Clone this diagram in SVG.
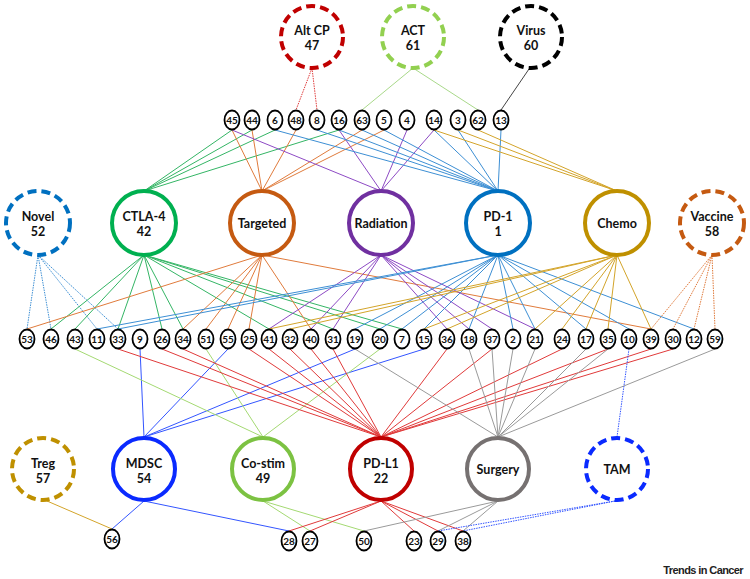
<svg xmlns="http://www.w3.org/2000/svg" width="750" height="579" viewBox="0 0 750 579">
<style>
.big{fill:#fff;stroke-width:4}
.dash{stroke-dasharray:9 5}
.sm{fill:#fff;stroke:#000;stroke-width:1.8}
.lb{font-family:Lato,"Liberation Sans",sans-serif;font-weight:bold;font-size:12.5px;text-anchor:middle;fill:#111}
.sl{font-family:Lato,"Liberation Sans",sans-serif;font-weight:bold;font-size:10px;text-anchor:middle;fill:#111}
#edges line{stroke-width:1;fill:none}
.dot{stroke-dasharray:1.5 1}
.c-red{stroke:#e03a3a}.c-act{stroke:#a9d98a}.c-vir{stroke:#444}
.c-ctla{stroke:#34b565}.c-tar{stroke:#e07b3c}.c-rad{stroke:#8d4ac4}.c-pd1{stroke:#3d8fd4}
.c-che{stroke:#d3a42a}.c-nov{stroke:#3d8fd4}.c-vac{stroke:#e07b3c}
.c-mdsc{stroke:#3355ff}.c-cos{stroke:#a4d972}.c-pdl1{stroke:#e03a3a}.c-sur{stroke:#9a9a9a}.c-tam{stroke:#3355ff}.c-treg{stroke:#d3a42a}
</style>
<g id="edges">
<line class="c-red dot" x1="312" y1="68" x2="296" y2="110"/>
<line class="c-red dot" x1="312" y1="68" x2="317" y2="110"/>
<line class="c-act" x1="413" y1="68" x2="362" y2="110"/>
<line class="c-act" x1="413" y1="68" x2="478" y2="110"/>
<line class="c-vir" x1="529" y1="69" x2="501" y2="110"/>
<line class="c-ctla" x1="144" y1="191" x2="232" y2="130"/>
<line class="c-ctla" x1="144" y1="191" x2="252" y2="130"/>
<line class="c-ctla" x1="144" y1="191" x2="275" y2="130"/>
<line class="c-ctla" x1="144" y1="191" x2="339" y2="130"/>
<line class="c-tar" x1="262" y1="191" x2="232" y2="130"/>
<line class="c-tar" x1="262" y1="191" x2="252" y2="130"/>
<line class="c-tar" x1="262" y1="191" x2="296" y2="130"/>
<line class="c-tar" x1="262" y1="191" x2="362" y2="130"/>
<line class="c-tar" x1="262" y1="191" x2="384" y2="130"/>
<line class="c-rad" x1="381" y1="191" x2="232" y2="130"/>
<line class="c-rad" x1="381" y1="191" x2="339" y2="130"/>
<line class="c-rad" x1="381" y1="191" x2="407" y2="130"/>
<line class="c-rad" x1="381" y1="191" x2="434" y2="130"/>
<line class="c-pd1" x1="498" y1="191" x2="275" y2="130"/>
<line class="c-pd1" x1="498" y1="191" x2="317" y2="130"/>
<line class="c-pd1" x1="498" y1="191" x2="339" y2="130"/>
<line class="c-pd1" x1="498" y1="191" x2="362" y2="130"/>
<line class="c-pd1" x1="498" y1="191" x2="384" y2="130"/>
<line class="c-pd1" x1="498" y1="191" x2="434" y2="130"/>
<line class="c-pd1" x1="498" y1="191" x2="458" y2="130"/>
<line class="c-pd1" x1="498" y1="191" x2="501" y2="130"/>
<line class="c-che" x1="617" y1="191" x2="434" y2="130"/>
<line class="c-che" x1="617" y1="191" x2="458" y2="130"/>
<line class="c-che" x1="617" y1="191" x2="478" y2="130"/>
<line class="c-nov dot" x1="38" y1="255" x2="27" y2="329"/>
<line class="c-nov dot" x1="38" y1="255" x2="51" y2="329"/>
<line class="c-nov dot" x1="38" y1="255" x2="97" y2="329"/>
<line class="c-nov dot" x1="38" y1="255" x2="118" y2="329"/>
<line class="c-ctla" x1="144" y1="255" x2="51" y2="329"/>
<line class="c-ctla" x1="144" y1="255" x2="75" y2="329"/>
<line class="c-ctla" x1="144" y1="255" x2="118" y2="329"/>
<line class="c-ctla" x1="144" y1="255" x2="162" y2="329"/>
<line class="c-ctla" x1="144" y1="255" x2="183" y2="329"/>
<line class="c-ctla" x1="144" y1="255" x2="269" y2="329"/>
<line class="c-ctla" x1="144" y1="255" x2="333" y2="329"/>
<line class="c-ctla" x1="144" y1="255" x2="380" y2="329"/>
<line class="c-ctla" x1="144" y1="255" x2="402" y2="329"/>
<line class="c-tar" x1="262" y1="255" x2="27" y2="329"/>
<line class="c-tar" x1="262" y1="255" x2="183" y2="329"/>
<line class="c-tar" x1="262" y1="255" x2="206" y2="329"/>
<line class="c-tar" x1="262" y1="255" x2="228" y2="329"/>
<line class="c-tar" x1="262" y1="255" x2="249" y2="329"/>
<line class="c-tar" x1="262" y1="255" x2="311" y2="329"/>
<line class="c-tar" x1="262" y1="255" x2="651" y2="329"/>
<line class="c-rad" x1="381" y1="255" x2="269" y2="329"/>
<line class="c-rad" x1="381" y1="255" x2="311" y2="329"/>
<line class="c-rad" x1="381" y1="255" x2="333" y2="329"/>
<line class="c-rad" x1="381" y1="255" x2="447" y2="329"/>
<line class="c-rad" x1="381" y1="255" x2="469" y2="329"/>
<line class="c-rad" x1="381" y1="255" x2="492" y2="329"/>
<line class="c-rad" x1="381" y1="255" x2="535" y2="329"/>
<line class="c-pd1" x1="498" y1="255" x2="97" y2="329"/>
<line class="c-pd1" x1="498" y1="255" x2="118" y2="329"/>
<line class="c-pd1" x1="498" y1="255" x2="355" y2="329"/>
<line class="c-pd1" x1="498" y1="255" x2="380" y2="329"/>
<line class="c-pd1" x1="498" y1="255" x2="402" y2="329"/>
<line class="c-pd1" x1="498" y1="255" x2="424" y2="329"/>
<line class="c-pd1" x1="498" y1="255" x2="469" y2="329"/>
<line class="c-pd1" x1="498" y1="255" x2="513" y2="329"/>
<line class="c-pd1" x1="498" y1="255" x2="535" y2="329"/>
<line class="c-pd1" x1="498" y1="255" x2="586" y2="329"/>
<line class="c-pd1" x1="498" y1="255" x2="629" y2="329"/>
<line class="c-pd1" x1="498" y1="255" x2="694" y2="329"/>
<line class="c-che" x1="617" y1="255" x2="269" y2="329"/>
<line class="c-che" x1="617" y1="255" x2="290" y2="329"/>
<line class="c-che" x1="617" y1="255" x2="424" y2="329"/>
<line class="c-che" x1="617" y1="255" x2="447" y2="329"/>
<line class="c-che" x1="617" y1="255" x2="535" y2="329"/>
<line class="c-che" x1="617" y1="255" x2="562" y2="329"/>
<line class="c-che" x1="617" y1="255" x2="586" y2="329"/>
<line class="c-che" x1="617" y1="255" x2="608" y2="329"/>
<line class="c-che" x1="617" y1="255" x2="651" y2="329"/>
<line class="c-vac dot" x1="712" y1="255" x2="651" y2="329"/>
<line class="c-vac dot" x1="712" y1="255" x2="673" y2="329"/>
<line class="c-vac dot" x1="712" y1="255" x2="694" y2="329"/>
<line class="c-vac dot" x1="712" y1="255" x2="715" y2="329"/>
<line class="c-mdsc" x1="144" y1="437" x2="140" y2="349"/>
<line class="c-mdsc" x1="144" y1="437" x2="228" y2="349"/>
<line class="c-mdsc" x1="144" y1="437" x2="355" y2="349"/>
<line class="c-mdsc" x1="144" y1="437" x2="424" y2="349"/>
<line class="c-cos" x1="263" y1="437" x2="75" y2="349"/>
<line class="c-cos" x1="263" y1="437" x2="206" y2="349"/>
<line class="c-cos" x1="263" y1="437" x2="380" y2="349"/>
<line class="c-pdl1" x1="381" y1="437" x2="118" y2="349"/>
<line class="c-pdl1" x1="381" y1="437" x2="162" y2="349"/>
<line class="c-pdl1" x1="381" y1="437" x2="183" y2="349"/>
<line class="c-pdl1" x1="381" y1="437" x2="249" y2="349"/>
<line class="c-pdl1" x1="381" y1="437" x2="269" y2="349"/>
<line class="c-pdl1" x1="381" y1="437" x2="290" y2="349"/>
<line class="c-pdl1" x1="381" y1="437" x2="311" y2="349"/>
<line class="c-pdl1" x1="381" y1="437" x2="333" y2="349"/>
<line class="c-pdl1" x1="381" y1="437" x2="447" y2="349"/>
<line class="c-pdl1" x1="381" y1="437" x2="492" y2="349"/>
<line class="c-pdl1" x1="381" y1="437" x2="562" y2="349"/>
<line class="c-pdl1" x1="381" y1="437" x2="608" y2="349"/>
<line class="c-pdl1" x1="381" y1="437" x2="651" y2="349"/>
<line class="c-pdl1" x1="381" y1="437" x2="673" y2="349"/>
<line class="c-sur" x1="498" y1="437" x2="355" y2="349"/>
<line class="c-sur" x1="498" y1="437" x2="469" y2="349"/>
<line class="c-sur" x1="498" y1="437" x2="492" y2="349"/>
<line class="c-sur" x1="498" y1="437" x2="513" y2="349"/>
<line class="c-sur" x1="498" y1="437" x2="535" y2="349"/>
<line class="c-sur" x1="498" y1="437" x2="586" y2="349"/>
<line class="c-sur" x1="498" y1="437" x2="608" y2="349"/>
<line class="c-sur" x1="498" y1="437" x2="715" y2="349"/>
<line class="c-tam dot" x1="617" y1="437" x2="629" y2="349"/>
<line class="c-treg" x1="47" y1="501" x2="112" y2="529"/>
<line class="c-mdsc" x1="144" y1="501" x2="112" y2="529"/>
<line class="c-mdsc" x1="144" y1="501" x2="289" y2="531"/>
<line class="c-cos" x1="263" y1="501" x2="310" y2="531"/>
<line class="c-cos" x1="263" y1="501" x2="364" y2="531"/>
<line class="c-pdl1" x1="381" y1="501" x2="289" y2="531"/>
<line class="c-pdl1" x1="381" y1="501" x2="310" y2="531"/>
<line class="c-pdl1" x1="381" y1="501" x2="414" y2="531"/>
<line class="c-pdl1" x1="381" y1="501" x2="438" y2="531"/>
<line class="c-pdl1" x1="381" y1="501" x2="463" y2="531"/>
<line class="c-sur" x1="498" y1="501" x2="364" y2="531"/>
<line class="c-sur" x1="498" y1="501" x2="438" y2="531"/>
<line class="c-sur" x1="498" y1="501" x2="463" y2="531"/>
<line class="c-tam dot" x1="615" y1="501" x2="438" y2="531"/>
<line class="c-tam dot" x1="615" y1="501" x2="463" y2="531"/>
</g>
<g id="n-altcp"><circle class="big dash" cx="312" cy="37" r="31" stroke="#c00000"/><text class="lb" x="312" y="35">Alt CP</text><text class="lb" x="312" y="50">47</text></g>
<g id="n-act"><circle class="big dash" cx="413" cy="37" r="31" stroke="#92d050"/><text class="lb" x="413" y="35">ACT</text><text class="lb" x="413" y="50">61</text></g>
<g id="n-virus"><circle class="big dash" cx="531" cy="37" r="31" stroke="#000"/><text class="lb" x="531" y="35">Virus</text><text class="lb" x="531" y="50">60</text></g>
<g id="n-novel"><circle class="big dash" cx="38" cy="223" r="32" stroke="#0070c0"/><text class="lb" x="38" y="221">Novel</text><text class="lb" x="38" y="236">52</text></g>
<g id="n-ctla4"><circle class="big" cx="144" cy="223" r="32" stroke="#00b050"/><text class="lb" x="144" y="221">CTLA-4</text><text class="lb" x="144" y="236">42</text></g>
<g id="n-targeted"><circle class="big" cx="262" cy="223" r="32" stroke="#c55a11"/><text class="lb" x="262" y="228">Targeted</text></g>
<g id="n-radiation"><circle class="big" cx="381" cy="223" r="32" stroke="#7030a0"/><text class="lb" x="381" y="228">Radiation</text></g>
<g id="n-pd1"><circle class="big" cx="498" cy="223" r="32" stroke="#0070c0"/><text class="lb" x="498" y="221">PD-1</text><text class="lb" x="498" y="236">1</text></g>
<g id="n-chemo"><circle class="big" cx="617" cy="223" r="32" stroke="#bf9000"/><text class="lb" x="617" y="228">Chemo</text></g>
<g id="n-vaccine"><circle class="big dash" cx="712" cy="223" r="32" stroke="#c55a11"/><text class="lb" x="712" y="221">Vaccine</text><text class="lb" x="712" y="236">58</text></g>
<g id="n-treg"><circle class="big dash" cx="43" cy="469" r="31" stroke="#bf9000"/><text class="lb" x="43" y="468">Treg</text><text class="lb" x="43" y="483">57</text></g>
<g id="n-mdsc"><circle class="big" cx="144" cy="469" r="31" stroke="#0a2aff"/><text class="lb" x="144" y="468">MDSC</text><text class="lb" x="144" y="483">54</text></g>
<g id="n-costim"><circle class="big" cx="263" cy="469" r="31" stroke="#7cc242"/><text class="lb" x="263" y="468">Co-stim</text><text class="lb" x="263" y="483">49</text></g>
<g id="n-pdl1"><circle class="big" cx="381" cy="469" r="31" stroke="#c00000"/><text class="lb" x="381" y="468">PD-L1</text><text class="lb" x="381" y="483">22</text></g>
<g id="n-surgery"><circle class="big" cx="498" cy="469" r="31" stroke="#767171"/><text class="lb" x="498" y="474">Surgery</text></g>
<g id="n-tam"><circle class="big dash" cx="617" cy="469" r="31" stroke="#0a2aff"/><text class="lb" x="617" y="474">TAM</text></g>
<g id="top-small">
<g id="s45"><ellipse class="sm" cx="232" cy="120" rx="7.5" ry="9.5"/><text class="sl" x="232" y="124">45</text></g>
<g id="s44"><ellipse class="sm" cx="252" cy="120" rx="7.5" ry="9.5"/><text class="sl" x="252" y="124">44</text></g>
<g id="s6"><ellipse class="sm" cx="275" cy="120" rx="7.5" ry="9.5"/><text class="sl" x="275" y="124">6</text></g>
<g id="s48"><ellipse class="sm" cx="296" cy="120" rx="7.5" ry="9.5"/><text class="sl" x="296" y="124">48</text></g>
<g id="s8"><ellipse class="sm" cx="317" cy="120" rx="7.5" ry="9.5"/><text class="sl" x="317" y="124">8</text></g>
<g id="s16"><ellipse class="sm" cx="339" cy="120" rx="7.5" ry="9.5"/><text class="sl" x="339" y="124">16</text></g>
<g id="s63"><ellipse class="sm" cx="362" cy="120" rx="7.5" ry="9.5"/><text class="sl" x="362" y="124">63</text></g>
<g id="s5"><ellipse class="sm" cx="384" cy="120" rx="7.5" ry="9.5"/><text class="sl" x="384" y="124">5</text></g>
<g id="s4"><ellipse class="sm" cx="407" cy="120" rx="7.5" ry="9.5"/><text class="sl" x="407" y="124">4</text></g>
<g id="s14"><ellipse class="sm" cx="434" cy="120" rx="7.5" ry="9.5"/><text class="sl" x="434" y="124">14</text></g>
<g id="s3"><ellipse class="sm" cx="458" cy="120" rx="7.5" ry="9.5"/><text class="sl" x="458" y="124">3</text></g>
<g id="s62"><ellipse class="sm" cx="478" cy="120" rx="7.5" ry="9.5"/><text class="sl" x="478" y="124">62</text></g>
<g id="s13"><ellipse class="sm" cx="501" cy="120" rx="7.5" ry="9.5"/><text class="sl" x="501" y="124">13</text></g>
</g>
<g id="mid-small">
<g id="s53"><ellipse class="sm" cx="27" cy="339" rx="7.5" ry="9.5"/><text class="sl" x="27" y="343">53</text></g>
<g id="s46"><ellipse class="sm" cx="51" cy="339" rx="7.5" ry="9.5"/><text class="sl" x="51" y="343">46</text></g>
<g id="s43"><ellipse class="sm" cx="75" cy="339" rx="7.5" ry="9.5"/><text class="sl" x="75" y="343">43</text></g>
<g id="s11"><ellipse class="sm" cx="97" cy="339" rx="7.5" ry="9.5"/><text class="sl" x="97" y="343">11</text></g>
<g id="s33"><ellipse class="sm" cx="118" cy="339" rx="7.5" ry="9.5"/><text class="sl" x="118" y="343">33</text></g>
<g id="s9"><ellipse class="sm" cx="140" cy="339" rx="7.5" ry="9.5"/><text class="sl" x="140" y="343">9</text></g>
<g id="s26"><ellipse class="sm" cx="162" cy="339" rx="7.5" ry="9.5"/><text class="sl" x="162" y="343">26</text></g>
<g id="s34"><ellipse class="sm" cx="183" cy="339" rx="7.5" ry="9.5"/><text class="sl" x="183" y="343">34</text></g>
<g id="s51"><ellipse class="sm" cx="206" cy="339" rx="7.5" ry="9.5"/><text class="sl" x="206" y="343">51</text></g>
<g id="s55"><ellipse class="sm" cx="228" cy="339" rx="7.5" ry="9.5"/><text class="sl" x="228" y="343">55</text></g>
<g id="s25"><ellipse class="sm" cx="249" cy="339" rx="7.5" ry="9.5"/><text class="sl" x="249" y="343">25</text></g>
<g id="s41"><ellipse class="sm" cx="269" cy="339" rx="7.5" ry="9.5"/><text class="sl" x="269" y="343">41</text></g>
<g id="s32"><ellipse class="sm" cx="290" cy="339" rx="7.5" ry="9.5"/><text class="sl" x="290" y="343">32</text></g>
<g id="s40"><ellipse class="sm" cx="311" cy="339" rx="7.5" ry="9.5"/><text class="sl" x="311" y="343">40</text></g>
<g id="s31"><ellipse class="sm" cx="333" cy="339" rx="7.5" ry="9.5"/><text class="sl" x="333" y="343">31</text></g>
<g id="s19"><ellipse class="sm" cx="355" cy="339" rx="7.5" ry="9.5"/><text class="sl" x="355" y="343">19</text></g>
<g id="s20"><ellipse class="sm" cx="380" cy="339" rx="7.5" ry="9.5"/><text class="sl" x="380" y="343">20</text></g>
<g id="s7"><ellipse class="sm" cx="402" cy="339" rx="7.5" ry="9.5"/><text class="sl" x="402" y="343">7</text></g>
<g id="s15"><ellipse class="sm" cx="424" cy="339" rx="7.5" ry="9.5"/><text class="sl" x="424" y="343">15</text></g>
<g id="s36"><ellipse class="sm" cx="447" cy="339" rx="7.5" ry="9.5"/><text class="sl" x="447" y="343">36</text></g>
<g id="s18"><ellipse class="sm" cx="469" cy="339" rx="7.5" ry="9.5"/><text class="sl" x="469" y="343">18</text></g>
<g id="s37"><ellipse class="sm" cx="492" cy="339" rx="7.5" ry="9.5"/><text class="sl" x="492" y="343">37</text></g>
<g id="s2"><ellipse class="sm" cx="513" cy="339" rx="7.5" ry="9.5"/><text class="sl" x="513" y="343">2</text></g>
<g id="s21"><ellipse class="sm" cx="535" cy="339" rx="7.5" ry="9.5"/><text class="sl" x="535" y="343">21</text></g>
<g id="s24"><ellipse class="sm" cx="562" cy="339" rx="7.5" ry="9.5"/><text class="sl" x="562" y="343">24</text></g>
<g id="s17"><ellipse class="sm" cx="586" cy="339" rx="7.5" ry="9.5"/><text class="sl" x="586" y="343">17</text></g>
<g id="s35"><ellipse class="sm" cx="608" cy="339" rx="7.5" ry="9.5"/><text class="sl" x="608" y="343">35</text></g>
<g id="s10"><ellipse class="sm" cx="629" cy="339" rx="7.5" ry="9.5"/><text class="sl" x="629" y="343">10</text></g>
<g id="s39"><ellipse class="sm" cx="651" cy="339" rx="7.5" ry="9.5"/><text class="sl" x="651" y="343">39</text></g>
<g id="s30"><ellipse class="sm" cx="673" cy="339" rx="7.5" ry="9.5"/><text class="sl" x="673" y="343">30</text></g>
<g id="s12"><ellipse class="sm" cx="694" cy="339" rx="7.5" ry="9.5"/><text class="sl" x="694" y="343">12</text></g>
<g id="s59"><ellipse class="sm" cx="715" cy="339" rx="7.5" ry="9.5"/><text class="sl" x="715" y="343">59</text></g>
</g>
<g id="bot-small">
<g id="s56"><ellipse class="sm" cx="112" cy="539" rx="7.5" ry="9.5"/><text class="sl" x="112" y="543">56</text></g>
<g id="s28"><ellipse class="sm" cx="289" cy="541" rx="7.5" ry="9.5"/><text class="sl" x="289" y="545">28</text></g>
<g id="s27"><ellipse class="sm" cx="310" cy="541" rx="7.5" ry="9.5"/><text class="sl" x="310" y="545">27</text></g>
<g id="s50"><ellipse class="sm" cx="364" cy="541" rx="7.5" ry="9.5"/><text class="sl" x="364" y="545">50</text></g>
<g id="s23"><ellipse class="sm" cx="414" cy="541" rx="7.5" ry="9.5"/><text class="sl" x="414" y="545">23</text></g>
<g id="s29"><ellipse class="sm" cx="438" cy="541" rx="7.5" ry="9.5"/><text class="sl" x="438" y="545">29</text></g>
<g id="s38"><ellipse class="sm" cx="463" cy="541" rx="7.5" ry="9.5"/><text class="sl" x="463" y="545">38</text></g>
</g>
<text x="743" y="574" font-family="'Liberation Sans',Arial,sans-serif" font-weight="bold" font-size="11px" letter-spacing="-0.6" text-anchor="end" fill="#222">Trends in Cancer</text>
</svg>
